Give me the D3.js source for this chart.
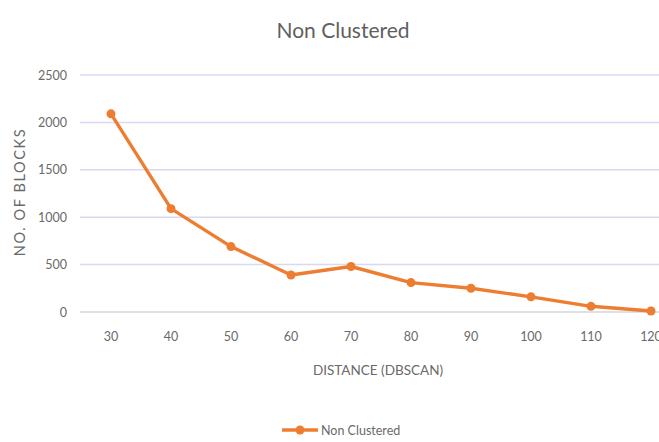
<!DOCTYPE html>
<html><head><meta charset="utf-8">
<script src="https://cdn.jsdelivr.net/npm/d3@7"></script>
<style>body{margin:0;background:#fff;overflow:hidden}text{font-family:Lato,"Open Sans",sans-serif}</style>
</head><body><svg id="c" width="659" height="442"></svg>
<script>
const categories = ["30","40","50","60","70","80","90","100","110","120"];
const values = [2090, 1090, 690, 390, 480, 310, 250, 160, 60, 10];
const yTicks = [0, 500, 1000, 1500, 2000, 2500];
const seriesName = "Non Clustered";
const title = "Non Clustered";
const xTitle = "DISTANCE (DBSCAN)";
const yTitle = "NO. OF BLOCKS";

const svg = d3.select("#c");
const mLeft = 81, mRight = 681, mTop = 75, mBottom = 312;
const x = d3.scaleBand().domain(categories).range([mLeft, mRight]);
const y = d3.scaleLinear().domain([0, 2500]).range([mBottom, mTop]);
const gray = "#6a6a6a", orange = "#ED7D31";

svg.append("rect").attr("width",659).attr("height",442).attr("fill","#fff");

svg.append("g").selectAll("line").data(yTicks).join("line")
  .attr("x1", mLeft - 1).attr("x2", mRight)
  .attr("y1", d => y(d)).attr("y2", d => y(d))
  .attr("stroke", d => d === 0 ? "#d4d4dc" : "#d8daf2").attr("stroke-width", 1.5);

const yAxis = svg.append("g").attr("transform", `translate(${mLeft},0)`)
  .call(d3.axisLeft(y).tickValues(yTicks).tickFormat(d3.format("d")).tickSize(0).tickPadding(14));
yAxis.select(".domain").remove();
yAxis.selectAll("text").attr("fill", gray).attr("font-size", 12.5);

const xAxis = svg.append("g").attr("transform", `translate(0,${mBottom})`)
  .call(d3.axisBottom(x).tickSize(0).tickPadding(20));
xAxis.select(".domain").remove();
xAxis.selectAll("text").attr("fill", gray).attr("font-size", 12.5);

const line = d3.line().x((d,i) => x(categories[i]) + x.bandwidth()/2).y(d => y(d));
svg.append("path").datum(values).attr("d", line)
  .attr("fill","none").attr("stroke", orange).attr("stroke-width", 3.4)
  .attr("stroke-linejoin","round");
svg.append("g").selectAll("circle").data(values).join("circle")
  .attr("cx", (d,i) => x(categories[i]) + x.bandwidth()/2).attr("cy", d => y(d))
  .attr("r", 4.5).attr("fill", orange);

svg.append("text").attr("x", 343).attr("y", 38).attr("text-anchor","middle")
  .attr("fill", "#5f5f5f").attr("font-size", 21).text(title);
svg.append("text").attr("x", 378).attr("y", 375).attr("text-anchor","middle")
  .attr("fill", gray).attr("font-size", 13.5).text(xTitle);
svg.append("text").attr("transform","translate(25,192) rotate(-90)").attr("text-anchor","middle")
  .attr("fill", gray).attr("font-size", 14.5).attr("letter-spacing", 1.6).text(yTitle);

const lg = svg.append("g");
lg.append("line").attr("x1", 282).attr("x2", 318).attr("y1", 430).attr("y2", 430)
  .attr("stroke", orange).attr("stroke-width", 3.4);
lg.append("circle").attr("cx", 300).attr("cy", 430).attr("r", 4.5).attr("fill", orange);
lg.append("text").attr("x", 321).attr("y", 434.5).attr("fill", gray).attr("font-size", 12.5).text(seriesName);
</script></body></html>
